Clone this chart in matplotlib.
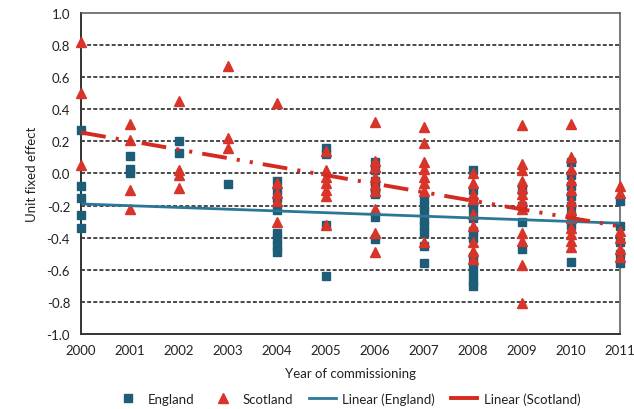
import matplotlib
matplotlib.use("Agg")
import matplotlib.pyplot as plt
from matplotlib.lines import Line2D

plt.rcParams['font.family'] = ['Lato', 'DejaVu Sans']

years = [2000, 2001, 2002, 2003, 2004, 2005, 2006, 2007, 2008, 2009, 2010, 2011]

england = [
    [0.27, -0.08, -0.155, -0.26, -0.34],
    [0.11, 0.03, 0.0],
    [0.20, 0.13],
    [-0.065],
    [-0.05, -0.10, -0.15, -0.23, -0.37, -0.41, -0.45, -0.49],
    [0.16, 0.12, -0.32, -0.64],
    [0.07, 0.02, -0.05, -0.09, -0.13, -0.27, -0.41],
    [-0.16, -0.20, -0.24, -0.29, -0.33, -0.37, -0.45, -0.56],
    [0.02, -0.10, -0.18, -0.22, -0.28, -0.36, -0.40, -0.52, -0.57, -0.62, -0.67, -0.70],
    [-0.10, -0.20, -0.30, -0.47],
    [0.07, -0.01, -0.08, -0.14, -0.20, -0.26, -0.32, -0.55],
    [-0.17, -0.33, -0.43, -0.50, -0.56],
]

scotland = [
    [0.82, 0.50, 0.05],
    [0.31, 0.21, -0.10, -0.22],
    [0.45, 0.02, -0.01, -0.09],
    [0.67, 0.22, 0.16],
    [0.44, -0.06, -0.12, -0.17, -0.30],
    [0.14, 0.02, -0.02, -0.06, -0.10, -0.14, -0.32],
    [0.32, 0.08, 0.04, -0.02, -0.07, -0.11, -0.22, -0.37, -0.49],
    [0.29, 0.19, 0.07, 0.03, -0.02, -0.06, -0.11, -0.43],
    [0.0, -0.06, -0.13, -0.16, -0.25, -0.33, -0.43, -0.48, -0.53],
    [0.30, 0.06, 0.02, -0.05, -0.09, -0.13, -0.17, -0.22, -0.37, -0.42, -0.57, -0.81],
    [0.31, 0.10, 0.03, -0.04, -0.10, -0.17, -0.23, -0.28, -0.34, -0.38, -0.42, -0.46],
    [-0.08, -0.12, -0.36, -0.40, -0.47, -0.52],
]

# linear trend lines, values at first and last year
trend_years = [2000, 2011]
england_trend = [-0.19, -0.31]
scotland_trend = [0.255, -0.33]

yticks = [1.0, 0.8, 0.6, 0.4, 0.2, 0.0, -0.2, -0.4, -0.6, -0.8, -1.0]

eng_color = '#1d5d78'
sco_color = '#d8342a'
eng_line = '#2b7896'
sco_line = '#d42a1f'

fig = plt.figure(figsize=(6.34, 4.10), dpi=100)
ax = fig.add_axes([0.128, 0.183, 0.85, 0.783])

ex = [y for y, vals in zip(years, england) for _ in vals]
ey = [v for vals in england for v in vals]
sx = [y for y, vals in zip(years, scotland) for _ in vals]
sy = [v for vals in scotland for v in vals]

ax.plot(ex, ey, linestyle='none', marker='s', ms=5.8, color=eng_color,
        clip_on=False, zorder=3)
ax.plot(sx, sy, linestyle='none', marker='^', ms=6.5, color=sco_color,
        clip_on=False, zorder=4)

ax.plot(trend_years, england_trend, color=eng_line, lw=2.0, zorder=5,
        solid_capstyle='butt')
sline, = ax.plot(trend_years, scotland_trend, color=sco_line, lw=2.8, zorder=6)
sline.set_dashes((6.4, 2.6, 0.8, 2.6, 0.8, 2.6))

ax.set_xlim(2000, 2011)
ax.set_ylim(-1.0, 1.0)
ax.set_xticks(years)
ax.set_xticklabels([str(y) for y in years])
ax.set_yticks(yticks)
ax.set_yticklabels([f'{t:.1f}' for t in yticks])
ax.tick_params(axis='both', length=0, labelsize=9.5, colors='#222222')
ax.tick_params(axis='x', pad=7)
ax.tick_params(axis='y', pad=8)

for t in [0.8, 0.6, 0.4, 0.2, 0.0, -0.2, -0.4, -0.6, -0.8]:
    ax.axhline(t, color='#3a3a3a', lw=1.3, dashes=(2.2, 1.2), zorder=1)

for side in ['left', 'bottom']:
    ax.spines[side].set_color('#333333')
    ax.spines[side].set_linewidth(1.4)
for side in ['top', 'right']:
    ax.spines[side].set_color('#555555')
    ax.spines[side].set_linewidth(1.1)

ax.set_xlabel('Year of commissioning', fontsize=9.5, color='#222222', labelpad=8)
ax.set_ylabel('Unit fixed effect', fontsize=9.5, color='#222222', labelpad=6)

handles = [
    Line2D([], [], linestyle='none', marker='s', ms=5.8, color=eng_color),
    Line2D([], [], linestyle='none', marker='^', ms=6.5, color=sco_color),
    Line2D([], [], color=eng_line, lw=2.0),
    Line2D([], [], color=sco_line, lw=2.8),
]
labels = ['England', 'Scotland', 'Linear (England)', 'Linear (Scotland)']
fig.legend(handles, labels, loc='center', bbox_to_anchor=(0.548, 0.025), ncol=4,
           frameon=False, fontsize=9.5, handlelength=2.0, handletextpad=0.5,
           columnspacing=1.2, labelcolor='#222222')

fig.savefig('out.png', dpi=100)
